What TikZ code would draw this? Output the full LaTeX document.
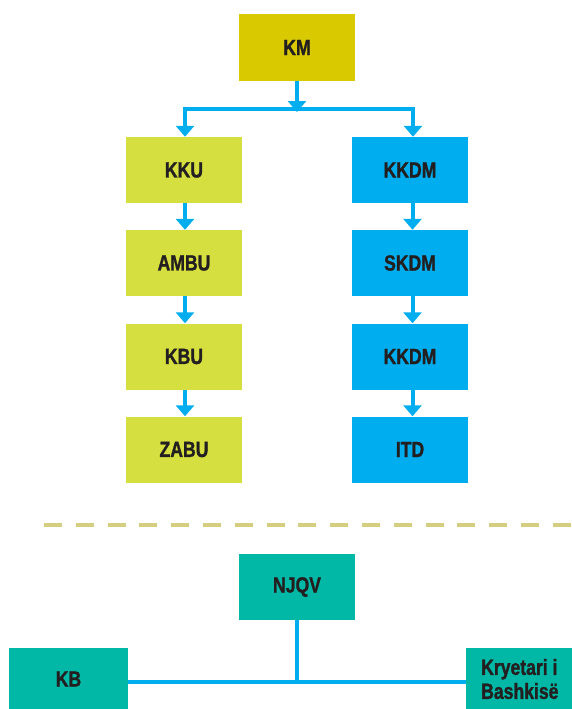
\documentclass[tikz,border=0pt]{standalone}
\usepackage{fontspec}
\newfontfamily\boxfont{Liberation Sans Bold}[FakeStretch=0.8,FakeBold=1.2]
\usetikzlibrary{arrows.meta}
\definecolor{kmcol}{HTML}{D8C900}
\definecolor{limecol}{HTML}{D5DF3F}
\definecolor{bluecol}{HTML}{00AEEF}
\definecolor{tealcol}{HTML}{00B8A5}
\definecolor{dashcol}{HTML}{D5CD80}
\definecolor{txtcol}{HTML}{231F20}
\begin{document}
\begin{tikzpicture}[x=1pt,y=-1pt,
  box/.style={minimum width=116pt,minimum height=66pt,inner sep=0pt,font=\boxfont\fontsize{22}{24}\selectfont,text=txtcol},
  lbox/.style={box,fill=limecol},
  bbox/.style={box,fill=bluecol},
  tbox/.style={box,fill=tealcol},
  conn/.style={draw=bluecol,line width=4pt},
  arr/.style={conn,-{Triangle[width=18pt,length=11pt]}},
]
\useasboundingbox (0,0) rectangle (572,709);
% top
\node[box,fill=kmcol] (km) at (297,47.5) {KM};
\node[lbox] (kku) at (184,170) {KKU};
\node[lbox] (ambu) at (184,263) {AMBU};
\node[lbox] (kbu) at (184,356.5) {KBU};
\node[lbox] (zabu) at (184,449.5) {ZABU};
\node[bbox] (kkdm) at (410,170) {KKDM};
\node[bbox] (skdm) at (410,263) {SKDM};
\node[bbox] (kkdm2) at (410,356.5) {KKDM};
\node[bbox] (itd) at (410,449.5) {ITD};
\coordinate (busL) at (185,109);
\coordinate (busR) at (413,109);
\coordinate (busM) at (297,112);
\draw[conn] ([xshift=-2pt]busL) -- ([xshift=2pt]busR);
\draw[arr] (km.south) -- (busM);
\draw[arr] ([yshift=-2pt]busL) -- (busL |- kku.north);
\draw[arr] ([yshift=-2pt]busR) -- (busR |- kkdm.north);
\draw[arr] ([xshift=1pt]kku.south) -- ([xshift=1pt]ambu.north);
\draw[arr] ([xshift=1pt]ambu.south) -- ([xshift=1pt]kbu.north);
\draw[arr] ([xshift=1pt]kbu.south) -- ([xshift=1pt]zabu.north);
\draw[arr] ([xshift=2.5pt]kkdm.south) -- ([xshift=2.5pt]skdm.north);
\draw[arr] ([xshift=2.5pt]skdm.south) -- ([xshift=2.5pt]kkdm2.north);
\draw[arr] ([xshift=2.5pt]kkdm2.south) -- ([xshift=2.5pt]itd.north);
% dashed separator
\coordinate (dL) at (44,525);
\coordinate (dR) at (572,525);
\draw[dashcol,line width=4pt,dash pattern=on 18pt off 13.8pt] (dL) -- (dR);
% bottom
\node[tbox] (njqv) at (297,587) {NJQV};
\node[tbox,minimum width=119pt,minimum height=62pt] (kb) at (68.5,679) {KB};
\node[tbox,minimum width=106pt,minimum height=62pt] (kry) at (519,679) {};
\node[font=\boxfont\fontsize{22}{24}\selectfont,text=txtcol,align=left,anchor=west,inner sep=0pt] (krytxt) at (481,679) {Kryetari i\\Bashkisë};
\coordinate (junc) at (297,682);
\draw[conn] (kb.east |- junc) -- (kry.west |- junc);
\draw[conn] (njqv.south) -- ([yshift=2pt]junc);
\end{tikzpicture}
\end{document}
